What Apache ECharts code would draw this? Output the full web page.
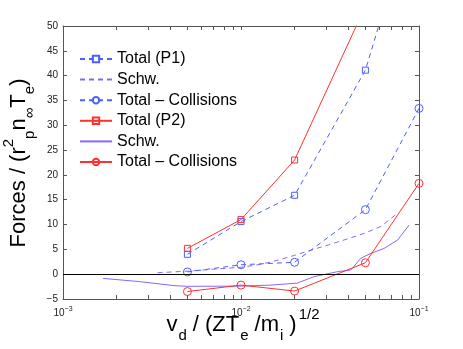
<!DOCTYPE html>
<html><head><meta charset="utf-8">
<script src="https://cdn.jsdelivr.net/npm/echarts@6/dist/echarts.min.js"></script>
<style>html,body{margin:0;padding:0;background:#fff}#c{width:463px;height:349px}</style>
</head><body><div id="c"></div>
<script>
// ---- data ----
const xP1 = [0.005, 0.01, 0.02, 0.05, 0.1];
const totalP1 = [4.0, 10.6, 15.9, 41.1, 77];
const totCollP1 = [0.45, 1.9, 2.4, 13.0, 33.4];
const xP2 = [0.005, 0.01, 0.02, 0.05];
const totalP2 = [5.2, 11.0, 23.0, 54];
const xP2c = [0.005, 0.01, 0.02, 0.05, 0.1];
const totCollP2 = [-3.5, -2.2, -3.4, 2.3, 18.3];
const schwP1X = [0.0034, 0.005, 0.007, 0.01, 0.013, 0.016, 0.02, 0.025, 0.031, 0.038, 0.049, 0.061, 0.076];
const schwP1Y = [0.3, 0.6, 1.0, 1.4, 2.0, 2.8, 3.8, 4.9, 5.9, 6.9, 8.2, 9.6, 12.3];
const schwP2X = [0.00168, 0.0027, 0.0042, 0.005, 0.01, 0.0147, 0.0207, 0.0257, 0.0348, 0.0414, 0.0471, 0.0537, 0.0638, 0.0759, 0.088];
const schwP2Y = [-0.85, -1.5, -2.3, -2.45, -2.4, -2.2, -1.8, -0.5, 0.5, 0.85, 3.2, 4.2, 5.2, 6.9, 9.9];
const seriesKeys = ['s1', 's2', 's3', 's4', 's5', 's6'];
const legendLabels = ['Total (P1)', 'Schw.', 'Total \u2013 Collisions', 'Total (P2)', 'Schw.', 'Total \u2013 Collisions'];
const xMajorTicks = [0.001, 0.01, 0.1];
const xMinorTicks = [0.002, 0.003, 0.004, 0.005, 0.006, 0.007, 0.008, 0.009,
                     0.02, 0.03, 0.04, 0.05, 0.06, 0.07, 0.08, 0.09];
const yMin = -5, yMax = 50, yStep = 5;

// ---- helpers ----
const zip = (xs, ys) => ys.map((y, i) => [xs[i], y]);
const FONT = 'Liberation Sans, Arial, Helvetica, sans-serif';
const BLUE = '#4d5fff', PURPLE = '#8a66ff', RED = '#ff3030', AX = '#555';
const labelMap = {};
seriesKeys.forEach((k, i) => labelMap[k] = legendLabels[i]);
const allXTicks = xMajorTicks.concat(xMinorTicks).sort((a, b) => a - b);

function mk(key, data, color, dashed, symbol, size) {
  return {
    name: key, type: 'line', data: data,
    symbol: symbol || 'none', symbolSize: size || 0, showSymbol: !!symbol,
    lineStyle: { color: color, width: 1, type: dashed ? [5, 4] : 'solid' },
    itemStyle: { color: 'rgba(0,0,0,0)', borderColor: color, borderWidth: 1 },
    emphasis: { disabled: true }, clip: true, z: 3
  };
}

const series = [
  mk('s1', zip(xP1, totalP1), BLUE, true, 'rect', 6),
  mk('s2', zip(schwP1X, schwP1Y), PURPLE, true),
  mk('s3', zip(xP1, totCollP1), BLUE, true, 'circle', 8),
  mk('s4', zip(xP2, totalP2), RED, false, 'rect', 6),
  mk('s5', zip(schwP2X, schwP2Y), PURPLE, false),
  mk('s6', zip(xP2c, totCollP2), RED, false, 'circle', 8)
];
series[0].markLine = {
  silent: true, symbol: ['none', 'none'], label: { show: false },
  lineStyle: { color: '#000', type: 'solid', width: 1 },
  data: [{ yAxis: 0 }], animation: false
};

const expFmt = v => {
  const e = Math.round(Math.log10(v));
  return '{b|10}{s|' + (e < 0 ? '\u2212' + (-e) : e) + '}';
};

const xAxisBase = {
  type: 'log', logBase: 10, min: 0.001, max: 0.1,
  axisLine: { show: true, onZero: false, lineStyle: { color: AX, width: 1 } },
  axisTick: { show: true, inside: true, length: 4, customValues: allXTicks, lineStyle: { color: AX } },
  splitLine: { show: false }, minorSplitLine: { show: false }
};
const yAxisBase = {
  type: 'value', min: yMin, max: yMax, interval: yStep,
  axisLine: { show: true, onZero: false, lineStyle: { color: AX, width: 1 } },
  axisTick: { show: true, inside: true, length: 4, lineStyle: { color: AX } },
  splitLine: { show: false }
};

const hidden = { color: 'rgba(0,0,0,0)', borderColor: 'rgba(0,0,0,0)', borderWidth: 0, opacity: 0 };
const legendData = seriesKeys.map((k, i) =>
  (i === 1 || i === 4) ? { name: k, itemStyle: hidden } : { name: k });

const chart = echarts.init(document.getElementById('c'), null, { renderer: 'canvas' });
chart.setOption({
  animation: false,
  backgroundColor: '#fff',
  textStyle: { fontFamily: FONT },
  grid: { left: 63, right: 44, top: 26, bottom: 50, containLabel: false },
  xAxis: [
    Object.assign({}, xAxisBase, {
      position: 'bottom',
      axisLabel: {
        show: true, margin: 7, formatter: expFmt, color: '#222',
        rich: {
          b: { fontSize: 10, fontFamily: FONT, color: '#222', verticalAlign: 'bottom' },
          s: { fontSize: 7, fontFamily: FONT, color: '#222', verticalAlign: 'top', padding: [0, 0, 5, 0] }
        }
      }
    }),
    Object.assign({}, xAxisBase, { position: 'top', axisLabel: { show: false } })
  ],
  yAxis: [
    Object.assign({}, yAxisBase, {
      position: 'left',
      axisLabel: { show: true, fontSize: 10, color: '#222', margin: 5, fontFamily: FONT,
        formatter: v => (v < 0 ? '\u2212' + (-v) : String(v)) }
    }),
    Object.assign({}, yAxisBase, { position: 'right', axisLabel: { show: false } })
  ],
  legend: {
    orient: 'vertical', left: 79, top: 51, padding: 0,
    itemWidth: 32, itemHeight: 8, itemGap: 4.6,
    textStyle: { fontSize: 16, color: '#000', fontFamily: FONT },
    formatter: n => labelMap[n], data: legendData, selectedMode: false
  },
  graphic: [
    {
      type: 'text', x: 19, y: 163, rotation: Math.PI / 2, silent: true,
      style: {
        text: '{m|Forces / (r}{p|2}{d|p}{m|n}{d|\u221e}{m|T}{d|e}{m|)}',
        align: 'center', verticalAlign: 'middle', fill: '#000',
        rich: {
          m: { fontSize: 22, fontFamily: FONT, lineHeight: 36, verticalAlign: 'middle' },
          p: { fontSize: 15, fontFamily: FONT, lineHeight: 15, verticalAlign: 'top' },
          d: { fontSize: 15, fontFamily: FONT, lineHeight: 15, verticalAlign: 'bottom' }
        }
      }
    },
    {
      type: 'text', x: 243, y: 325, silent: true,
      style: {
        text: '{m|v}{d|d}{m|/ (ZT}{d|e}{m|/m}{d|i}{m|)}{p|1/2}',
        align: 'center', verticalAlign: 'middle', fill: '#000',
        rich: {
          m: { fontSize: 22, fontFamily: FONT, lineHeight: 36, verticalAlign: 'middle' },
          p: { fontSize: 15, fontFamily: FONT, lineHeight: 15, verticalAlign: 'top', padding: [0, 0, 0, 2] },
          d: { fontSize: 15, fontFamily: FONT, lineHeight: 15, verticalAlign: 'bottom', padding: [0, 6, 0, 1] }
        }
      }
    }
  ],
  series: series
});
</script>
</body></html>
